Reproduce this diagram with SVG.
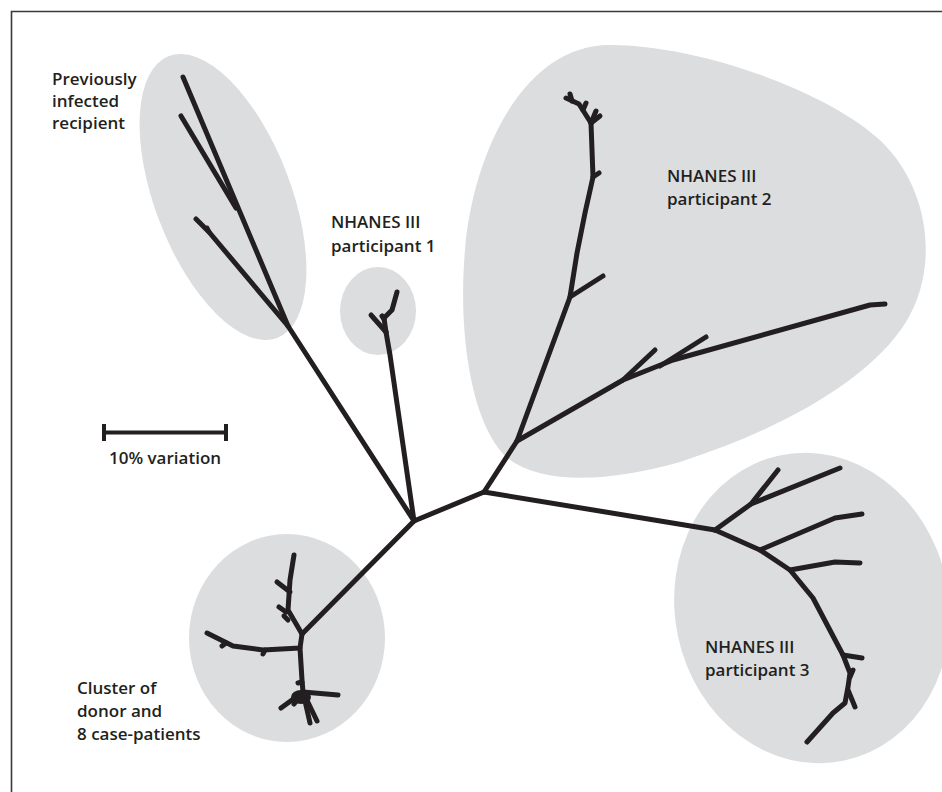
<svg xmlns="http://www.w3.org/2000/svg" width="942" height="792" viewBox="0 0 942 792">
<style>
.blob{fill:#dcdddf;stroke:none}
.br{fill:none;stroke:#231f20;stroke-width:5;stroke-linecap:round;stroke-linejoin:round}
.lbl{font-family:"Open Sans","Liberation Sans",sans-serif;font-weight:600;font-size:17px;fill:#231f20}
</style>
<rect x="0" y="0" width="942" height="792" fill="#ffffff"/>
<path d="M11.5 792 V11.5 H942" fill="none" stroke="#3a3a3a" stroke-width="1.6"/>

<g id="cluster-previously-infected">
<ellipse class="blob" cx="223" cy="197" rx="68" ry="151" transform="rotate(-21 223 197)"/>
<text class="lbl" x="52" y="85">Previously</text>
<text class="lbl" x="52" y="107">infected</text>
<text class="lbl" x="52" y="129">recipient</text>
</g>

<g id="cluster-participant-1">
<ellipse class="blob" cx="378" cy="311" rx="38" ry="44"/>
<text class="lbl" x="331" y="228">NHANES III</text>
<text class="lbl" x="331" y="252">participant 1</text>
</g>

<g id="cluster-participant-2">
<path class="blob" d="M610 45 C700 45 830 92 882 142 C932 192 938 270 906 322 C870 380 780 430 680 462 C610 482 540 486 505 456 C470 420 458 330 465 250 C472 160 520 45 610 45 Z"/>
<text class="lbl" x="667" y="182">NHANES III</text>
<text class="lbl" x="667" y="205">participant 2</text>
</g>

<g id="cluster-participant-3">
<ellipse class="blob" cx="812" cy="608" rx="137" ry="156" transform="rotate(-12 812 608)"/>
<text class="lbl" x="705" y="653">NHANES III</text>
<text class="lbl" x="705" y="676">participant 3</text>
</g>

<g id="cluster-donor">
<ellipse class="blob" cx="287" cy="638" rx="98" ry="104"/>
<text class="lbl" x="77" y="694">Cluster of</text>
<text class="lbl" x="77" y="717">donor and</text>
<text class="lbl" x="77" y="740">8 case-patients</text>
</g>

<g id="scale-bar">
<path d="M104 432.5 H226 M104 424 V441 M226 424 V441" fill="none" stroke="#231f20" stroke-width="4"/>
<text class="lbl" x="109" y="464">10% variation</text>
</g>

<g id="connectors">
<!-- central internal branches -->
<path class="br" d="M414 521 L484 492"/>
<path class="br" d="M414 521 L288 326"/>
<path class="br" d="M414 521 L390 355 L386 332"/>
<path class="br" d="M414 521 L302 634"/>
<path class="br" d="M484 492 L517 441"/>
<path class="br" d="M484 492 L715 530"/>

<!-- previously infected recipient -->
<path class="br" d="M288 326 L183 77"/>
<path class="br" d="M236 208 L181 116"/>
<path class="br" d="M288 326 L209 232 L196 219"/>
<path class="br" d="M209 232 L207 228"/>

<!-- participant 1 -->
<path class="br" d="M386 332 L371 315"/>
<path class="br" d="M386 332 L384 318 L392 310 L397 292"/>
<path class="br" d="M384 319 L382 316"/>

<!-- participant 2 -->
<path class="br" d="M517 441 L570 297 L577 253 L585 213 L593 177 L591 123"/>
<path class="br" d="M570 297 L603 276"/>
<path class="br" d="M593 177 L599 173"/>
<path class="br" d="M591 123 L579 104 L566 98"/>
<path class="br" d="M572 101 L570 94"/>
<path class="br" d="M583 110 L586 103"/>
<path class="br" d="M591 123 L600 116"/>
<path class="br" d="M591 123 L596 111"/>
<path class="br" d="M517 441 L623 380 L673 360 L870 305 L885 304"/>
<path class="br" d="M623 380 L655 350"/>
<path class="br" d="M660 366 L706 337"/>

<!-- participant 3 -->
<path class="br" d="M715 530 L760 550 L790 570 L813 598 L843 655 L850 673 L848 687 L845 703 L833 713 L807 742"/>
<path class="br" d="M715 530 L751 504 L778 470"/>
<path class="br" d="M751 504 L840 468"/>
<path class="br" d="M760 550 L835 518 L862 514"/>
<path class="br" d="M790 570 L835 562 L860 563"/>
<path class="br" d="M843 655 L862 658"/>
<path class="br" d="M850 677 L853 670"/>
<path class="br" d="M848 690 L855 707"/>

<!-- donor cluster -->
<path class="br" d="M302 634 L288 610 L290 580 L294 555"/>
<path class="br" d="M290 592 L277 582"/>
<path class="br" d="M286 612 L279 607"/>
<path class="br" d="M288 620 L284 616"/>
<path class="br" d="M302 634 L300 648 L263 650 L233 646 L207 633"/>
<path class="br" d="M226 643 L222 646"/>
<path class="br" d="M265 650 L263 654"/>
<path class="br" d="M300 648 L302 680 L303 692 L338 695"/>
<path class="br" d="M303 692 L281 708"/>
<path class="br" d="M303 692 L310 723"/>
<path class="br" d="M303 692 L317 721"/>
<path class="br" d="M303 692 L294 704"/>
<path class="br" d="M302 682 L298 683"/>
<ellipse cx="301" cy="697" rx="10" ry="7" fill="#231f20"/>
</g>
</svg>
